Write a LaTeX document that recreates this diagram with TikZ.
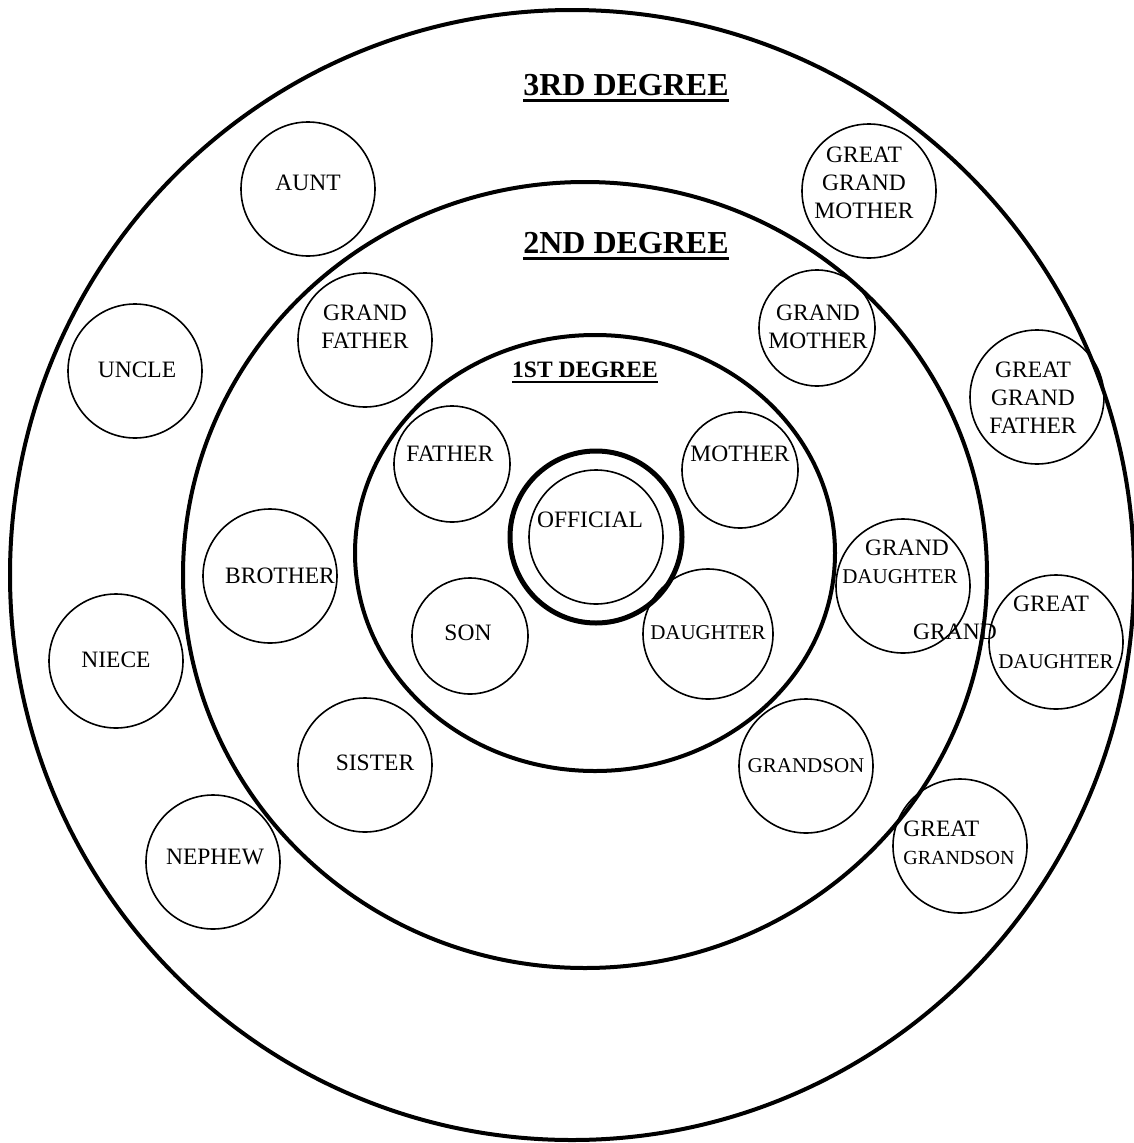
\documentclass[tikz,border=0pt]{standalone}
\usepackage{fontspec}
\setmainfont{Liberation Serif}
\usepackage{tikz}
\tikzstyle{ring} = [draw, line width=4pt]
\tikzstyle{kin} = [draw, circle, line width=1.6pt, minimum size=134pt, inner sep=0pt]
\tikzstyle{small kin} = [kin, minimum size=116pt]
\tikzstyle{word} = [inner sep=0pt, align=center, font=\fontsize{23.5}{28}\selectfont]
\tikzstyle{tiny word} = [word, font=\fontsize{21}{28}\selectfont]
\tikzstyle{heading} = [inner sep=0pt, font=\bfseries\fontsize{32}{36}\selectfont]

\begin{document}
\begin{tikzpicture}[x=1pt,y=-1pt]
	\useasboundingbox (0,0) rectangle (1134,1143);
	% degree rings
	\draw[ring] (572,575) ellipse [x radius=562, y radius=565];
	\draw[ring] (585,575) ellipse [x radius=402, y radius=393];
	\draw[ring] (595,553) ellipse [x radius=240, y radius=218];
	\node[kin, line width=5pt, minimum size=172pt] (officialRing) at (596,537) {};
	\node[kin] (official) at (596,537) {};
	\node[word] (officialText) at (590,520) {OFFICIAL};
	% headings
	\node[heading] (deg3) at (626,85) {3RD DEGREE};
	\draw[line width=2.5pt] ([yshift=-5pt]deg3.base west) -- ([yshift=-5pt]deg3.base east);
	\node[heading] (deg2) at (626,243) {2ND DEGREE};
	\draw[line width=2.5pt] ([yshift=-5pt]deg2.base west) -- ([yshift=-5pt]deg2.base east);
	\node[heading, font=\bfseries\fontsize{23.5}{28}\selectfont] (deg1) at (585,370) {1ST DEGREE};
	\draw[line width=1.8pt] ([yshift=-4pt]deg1.base west) -- ([yshift=-4pt]deg1.base east);
	% 1st degree
	\node[small kin] (father) at (452,464) {};
	\node[word] (fatherText) at (450,454) {FATHER};
	\node[small kin] (mother) at (740,470) {};
	\node[word] (motherText) at (740,454) {MOTHER};
	\node[small kin] (son) at (470,636) {};
	\node[word] (sonText) at (468,633) {SON};
	\node[kin, minimum size=130pt] (daughter) at (708,634) {};
	\node[tiny word] (daughterText) at (708,633) {DAUGHTER};
	% 2nd degree
	\node[kin] (grandFather) at (365,340) {};
	\node[word] (grandFatherText) at (365,327) {GRAND\\FATHER};
	\node[small kin] (grandMother) at (817,328) {};
	\node[word] (grandMotherText) at (818,327) {GRAND\\MOTHER};
	\node[kin] (brother) at (270,576) {};
	\node[word] (brotherText) at (280,576) {BROTHER};
	\node[kin] (sister) at (365,765) {};
	\node[word] (sisterText) at (375,763) {SISTER};
	\node[kin] (grandDaughter) at (903,586) {};
	\node[word] (grandDaughterText1) at (907,548) {GRAND};
	\node[tiny word] (grandDaughterText2) at (900,577) {DAUGHTER};
	\node[kin] (grandSon) at (806,766) {};
	\node[tiny word] (grandSonText) at (806,766) {GRANDSON};
	% 3rd degree
	\node[kin] (aunt) at (308,189) {};
	\node[word] (auntText) at (308,183) {AUNT};
	\node[kin] (uncle) at (135,371) {};
	\node[word] (uncleText) at (137,370) {UNCLE};
	\node[kin] (niece) at (116,661) {};
	\node[word] (nieceText) at (116,660) {NIECE};
	\node[kin] (nephew) at (213,862) {};
	\node[word] (nephewText) at (215,857) {NEPHEW};
	\node[kin] (greatGrandMother) at (869,191) {};
	\node[word] (greatGrandMotherText) at (864,183) {GREAT\\GRAND\\MOTHER};
	\node[kin] (greatGrandFather) at (1037,397) {};
	\node[word] (greatGrandFatherText) at (1033,398) {GREAT\\GRAND\\FATHER};
	\node[kin] (greatDaughter) at (1056,642) {};
	\node[word] (greatDaughterText1) at (1051,604) {GREAT};
	\node[word] (greatDaughterText2) at (955,632) {GRAND};
	\node[tiny word] (greatDaughterText3) at (1056,662) {DAUGHTER};
	\node[kin] (greatGrandSon) at (960,846) {};
	\node[word, align=left] (greatGrandSonText) at (959,843) {GREAT\\{\fontsize{20}{28}\selectfont GRANDSON}};
\end{tikzpicture}
\end{document}
